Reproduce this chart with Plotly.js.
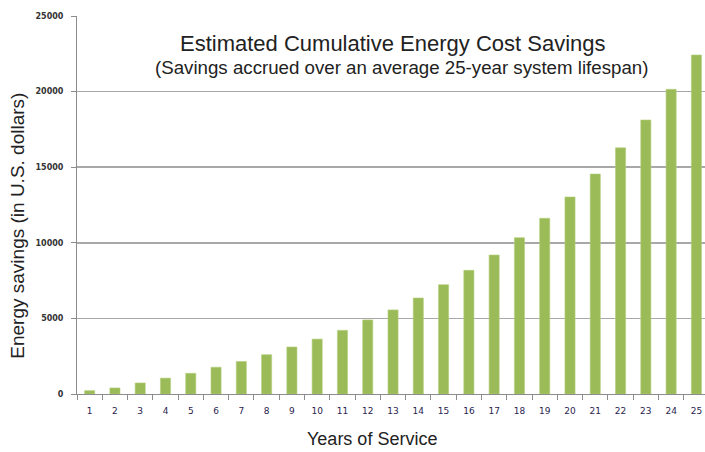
<!DOCTYPE html>
<html>
<head>
<meta charset="utf-8">
<script src="https://cdn.plot.ly/plotly-3.0.1.min.js"></script>
<style>html,body{margin:0;padding:0;background:#fff;}#chart{width:705px;height:452px;}</style>
</head>
<body>
<div id="chart"></div>
<script>
const years = ["1","2","3","4","5","6","7","8","9","10","11","12","13","14","15","16","17","18","19","20","21","22","23","24","25"];
const savings = [220, 400, 730, 1050, 1370, 1770, 2150, 2600, 3110, 3630, 4210, 4900, 5560, 6350, 7230, 8180, 9190, 10340, 11620, 13030, 14550, 16280, 18120, 20150, 22420];
const yTicks = [0, 5000, 10000, 15000, 20000, 25000];
const titleText = "Estimated Cumulative Energy Cost Savings";
const subtitleText = "(Savings accrued over an average 25-year system lifespan)";
const xTitle = "Years of Service";
const yTitle = "Energy savings (in U.S. dollars)";

const trace = {
  type: "bar",
  x: years,
  y: savings,
  marker: {color: "#9BBB59", line: {color: "#B3CF7A", width: 0.6}},
  width: 0.4,
  hoverinfo: "x+y"
};

const layout = {
  width: 705, height: 452,
  margin: {l: 77, r: 0, t: 16, b: 58, pad: 0},
  paper_bgcolor: "#fff", plot_bgcolor: "#fff",
  showlegend: false,
  font: {family: "Liberation Sans, Arial, sans-serif", color: "#222"},
  xaxis: {
    type: "category",
    range: [-0.5, 24.34],
    tickson: "boundaries",
    ticks: "outside", ticklen: 5, tickcolor: "#8c8c8c", tickwidth: 1,
    showline: true, linecolor: "#8c8c8c", linewidth: 1,
    showgrid: false,
    tickfont: {family: "DejaVu Sans, sans-serif", size: 9, color: "#2a2350"},
    ticklabelstandoff: 8,
    fixedrange: true
  },
  yaxis: {
    range: [0, 25000],
    tickvals: yTicks,
    ticktext: yTicks.map(String),
    ticks: "outside", ticklen: 5, tickcolor: "#8c8c8c", tickwidth: 1,
    showline: true, linecolor: "#8c8c8c", linewidth: 1,
    showgrid: true, gridcolor: "#a8a8a8", gridwidth: 1.5,
    zeroline: false,
    tickfont: {family: "DejaVu Sans, sans-serif", size: 8, color: "#333", weight: "bold"},
    ticklabelstandoff: 6,
    fixedrange: true
  },
  annotations: [
    {text: titleText, xref: "paper", yref: "paper", x: 0.503, y: 0.926, xanchor: "center", yanchor: "middle", showarrow: false,
     font: {size: 22, color: "#222", family: "Liberation Sans, Arial, sans-serif"}},
    {text: subtitleText, xref: "paper", yref: "paper", x: 0.516, y: 0.865, xanchor: "center", yanchor: "middle", showarrow: false,
     font: {size: 18.7, color: "#222", family: "Liberation Sans, Arial, sans-serif"}},
    {text: xTitle, xref: "paper", yref: "paper", x: 0.47, y: -0.119, xanchor: "center", yanchor: "middle", showarrow: false,
     font: {size: 18, color: "#222", family: "Liberation Sans, Arial, sans-serif"}},
    {text: yTitle, xref: "paper", yref: "paper", x: -0.0947, y: 0.444, xanchor: "center", yanchor: "middle", textangle: -90, showarrow: false,
     font: {size: 19, color: "#222", family: "Liberation Sans, Arial, sans-serif"}}
  ]
};

Plotly.newPlot("chart", [trace], layout, {displayModeBar: false, staticPlot: true});
</script>
</body>
</html>
